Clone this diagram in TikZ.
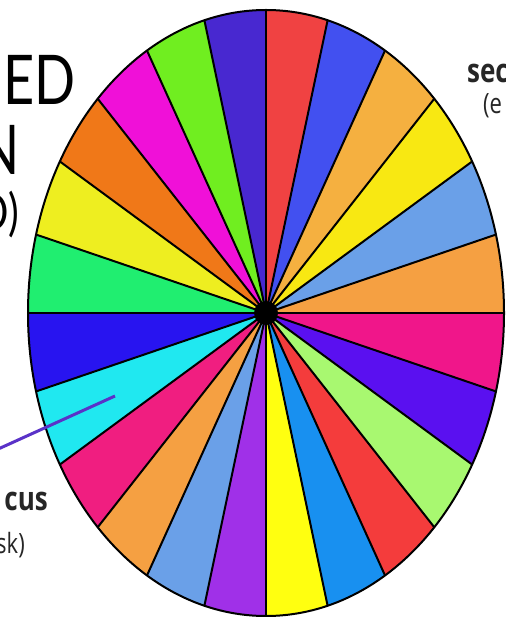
\documentclass[tikz,border=0pt]{standalone}
\usepackage{fontspec}
\newfontfamily\titlefont{Lato}
\newfontfamily\labelfont{Open Sans}
\usetikzlibrary{calc}
%% wheel colours, clockwise from the top
\definecolor{wRed}{HTML}{F04242}
\definecolor{wRoyal}{HTML}{4250F0}
\definecolor{wApricot}{HTML}{F5B040}
\definecolor{wLemon}{HTML}{F8E812}
\definecolor{wSky}{HTML}{6AA0E8}
\definecolor{wSand}{HTML}{F5A042}
\definecolor{wRose}{HTML}{F0168A}
\definecolor{wViolet}{HTML}{5A10F0}
\definecolor{wMint}{HTML}{A8F870}
\definecolor{wScarlet}{HTML}{F43C3C}
\definecolor{wDodger}{HTML}{1890F0}
\definecolor{wYellow}{HTML}{FFFF10}
\definecolor{wPurple}{HTML}{A030E8}
\definecolor{wPink}{HTML}{F01E80}
\definecolor{wCyan}{HTML}{20E8F0}
\definecolor{wBlue}{HTML}{2814F0}
\definecolor{wSpring}{HTML}{20EE70}
\definecolor{wCitrus}{HTML}{EEEE20}
\definecolor{wOrange}{HTML}{F07818}
\definecolor{wMagenta}{HTML}{F010D8}
\definecolor{wLime}{HTML}{70EE20}
\definecolor{wIndigo}{HTML}{4828D0}
\definecolor{ptrcol}{HTML}{5A32C8}
\tikzset{
  spoke/.style={draw=black, line width=2pt},
  hubdot/.style={circle, fill=black, minimum size=24pt, inner sep=0pt},
  bigtxt/.style={font=\titlefont\fontsize{54}{54}\selectfont, yscale=1.27, inner sep=0pt},
  midtxt/.style={font=\titlefont\fontsize{40}{40}\selectfont, yscale=1.27, inner sep=0pt},
  tagtxt/.style={font=\labelfont\bfseries\fontsize{26}{26}\selectfont, yscale=1.27, inner sep=0pt, text=black!85},
  notetxt/.style={font=\labelfont\fontsize{22}{22}\selectfont, yscale=1.27, inner sep=0pt, text=black!85},
  pointer/.style={draw=ptrcol, line width=3pt},
}
\begin{document}
\begin{tikzpicture}[x=1pt, y=-1pt]
  \useasboundingbox (0,0) rectangle (505,617);
  \clip (0,0) rectangle (505,617);
  \fill[white] (0,0) rectangle (505,617);
  %% Wheel
  \coordinate (hub) at (266,313);
  \begin{scope}[shift={(hub)}, x=238pt, y=303pt]
    \foreach \c [count=\i] in {wRed,wRoyal,wApricot,wLemon,wSky,wSand,
        wRose,wViolet,wMint,wScarlet,wDodger,wYellow,
        wPurple,wSky,wSand,wPink,wCyan,wBlue,
        wSpring,wCitrus,wOrange,wMagenta,wLime,wIndigo}{
      \pgfmathsetmacro\a{90-15*\i}
      \fill[\c] (0,0) -- (\a:1) arc[start angle=\a, delta angle=15,
        x radius=238pt, y radius=303pt] -- cycle;
    }
    \foreach \a in {0,15,...,345}
      \draw[spoke] (0,0) -- (\a:1);
    \draw[spoke] (0,0) ellipse[x radius=238pt, y radius=303pt];
  \end{scope}
  \node[hubdot] (hubdot) at (hub) {};
  %% Cut-off labels
  \node[bigtxt, anchor=base west] (edtxt) at (3,105) {ED};
  \node[bigtxt, anchor=base east] (ntxt) at (20,175) {N};
  \node[midtxt, anchor=base east] (dtxt) at (19,231) {D)};
  \node[tagtxt, anchor=base west] (sectxt) at (467,83) {sec};
  \node[notetxt, anchor=base west] (etxt) at (483,114) {(e};
  \node[tagtxt, anchor=base east] (custxt) at (48,510) {cus};
  \node[notetxt, anchor=base east] (sktxt) at (25,553) {sk)};
  %% Pointer
  \coordinate (ptrtip) at (115,396);
  \coordinate (ptrtail) at (-4,450);
  \draw[pointer] (ptrtip) -- (ptrtail);
\end{tikzpicture}
\end{document}
